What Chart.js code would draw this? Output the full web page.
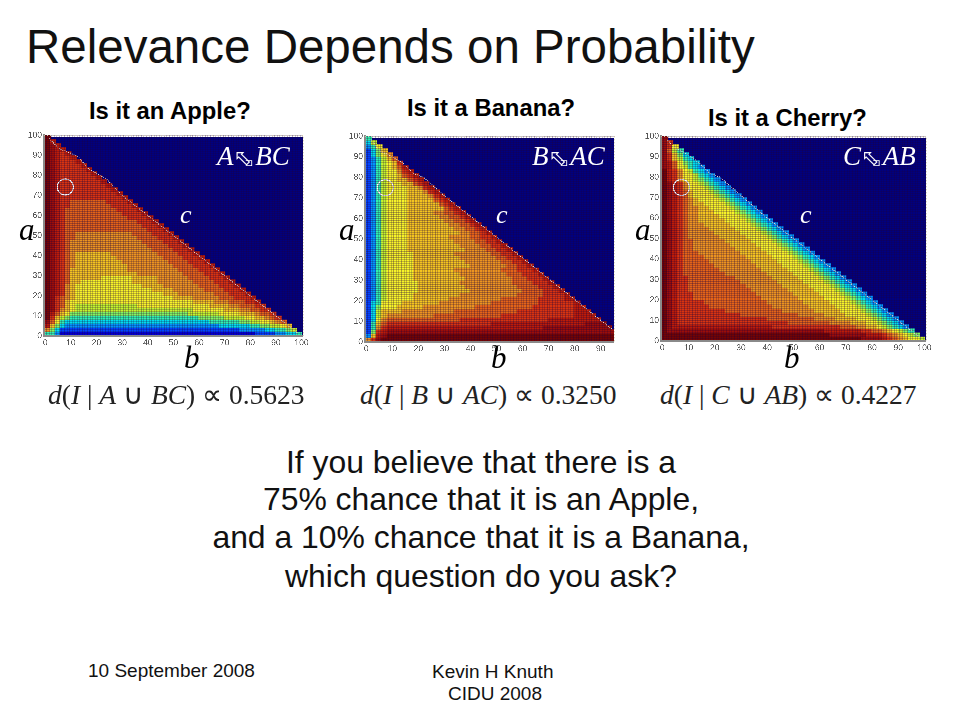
<!DOCTYPE html>
<html>
<head>
<meta charset="utf-8">
<script src="https://cdn.jsdelivr.net/npm/chart.js@4/dist/chart.umd.js"></script>
<style>
  html, body { margin: 0; padding: 0; background: #fff; }
  #slide { position: relative; width: 960px; height: 720px; overflow: hidden; font-family: "Liberation Sans", Arial, sans-serif; color: #000; }
  #slide canvas { position: absolute; }
  .t { position: absolute; white-space: nowrap; line-height: 1; }
  .title { font-size: 47.5px; left: 26px; top: 23px; color: #111; }
  .sub { font-size: 23.8px; font-weight: bold; }
  .body { left: 0; width: 962px; text-align: center; font-size: 31.9px; color: #111; }
  .foot { font-size: 19px; color: #111; }
  .v { font-family: "Liberation Serif", serif; font-style: italic; font-size: 31px; }
  .c { color: #fff; font-size: 26px; }
  .rel { font-family: "Liberation Serif", serif; font-style: italic; font-size: 27px; color: #fff; }
  .rel b { font-family: "DejaVu Sans", sans-serif; font-style: normal; font-weight: normal; font-size: 22px; }
  .rel u { font-family: "DejaVu Sans", sans-serif; font-style: normal; text-decoration: none; font-size: 10px; margin: 0 2px 0 -7px; position: relative; top: 1px; }
  .eq { font-family: "Liberation Serif", serif; font-size: 27.5px; color: #222; }
  .eq i { font-style: italic; }
</style>
</head>
<body>
<div id="slide">
  <div class="t title">Relevance Depends on Probability</div>

  <div class="t sub" style="left:89px;top:99px">Is it an Apple?</div>
  <div class="t sub" style="left:407px;top:96px">Is it a Banana?</div>
  <div class="t sub" style="left:708px;top:106px">Is it a Cherry?</div>

  <canvas id="apple"></canvas>
  <canvas id="banana"></canvas>
  <canvas id="cherry"></canvas>

  <div class="t rel" style="left:217px;top:143px">A<b>⬁</b><u>⊐</u>BC</div>
  <div class="t rel" style="left:532px;top:143px">B<b>⬁</b><u>⊐</u>AC</div>
  <div class="t rel" style="left:843px;top:143px">C<b>⬁</b><u>⊐</u>AB</div>
  <div class="t v c" style="left:180px;top:202px">c</div>
  <div class="t v c" style="left:496px;top:202px">c</div>
  <div class="t v c" style="left:800px;top:202px">c</div>
  <div class="t v" style="left:19px;top:214px">a</div>
  <div class="t v" style="left:339px;top:214px">a</div>
  <div class="t v" style="left:635px;top:214px">a</div>
  <div class="t v" style="left:184px;top:342px">b</div>
  <div class="t v" style="left:491px;top:342px">b</div>
  <div class="t v" style="left:784px;top:342px">b</div>

  <div class="t eq" style="left:48px;top:381px"><i>d</i>(<i>I</i> | <i>A</i> ∪ <i>BC</i>) ∝ 0.5623</div>
  <div class="t eq" style="left:360px;top:381px"><i>d</i>(<i>I</i> | <i>B</i> ∪ <i>AC</i>) ∝ 0.3250</div>
  <div class="t eq" style="left:660px;top:381px"><i>d</i>(<i>I</i> | <i>C</i> ∪ <i>AB</i>) ∝ 0.4227</div>

  <div class="t body" style="top:447px">If you believe that there is a</div>
  <div class="t body" style="top:484px">75% chance that it is an Apple,</div>
  <div class="t body" style="top:522px">and a 10% chance that it is a Banana,</div>
  <div class="t body" style="top:561px">which question do you ask?</div>

  <div class="t foot" style="left:88px;top:661px">10 September 2008</div>
  <div class="t foot" style="left:432px;top:662px">Kevin H Knuth</div>
  <div class="t foot" style="left:448px;top:684px">CIDU 2008</div>
</div>

<script>
// one string per row of the image, top row first (a = 98, 96, ... 0)
// each character is a colour level 0-f, left to right in b
const appleRows = [
  'f', 'fd', 'fed', 'fedd', 'fedcd', 'fedccd', 'fedcccd', 'fedccccd', 'fedcccccd', 'fedccccccd',
  'fedcccccccd', 'fedccccccccd', 'fedcccccccccd', 'fedccccccccccd', 'fedcccccccccccd', 'fedccccccccccccd',
  'fedcc bbbbbbb cccc d',
  'fedcc bbbbbbbb cccc d',
  'fedc bbbbbbbbbb cccc d',
  'fedc bbbbbbbbbb b cccc d',
  'fedc bbbbbbbbbb bb cccc d',
  'fedc bbbbbbbbbb bbbb ccc d',
  'fedc bbbbbbbbbb bbbbb ccc d',
  'fedc bbbbbbbbbb bbbbbb ccc d',
  'fedc bb aaaaaaaaaa a bbbb ccc d',
  'fedc bb aaaaaaaaaa aa bbbb ccc d',
  'fedc b aaaaaaaaaa aaaa bbbb ccc d',
  'fedc b aaaaaaaaaa aaaaa bbbb ccc d',
  'fedc b aaaaaaaaaa aaaaaa bbbb ccc d',
  'fedc ba 9999999 aaaaaaaaa bbbb ccc d',
  'fedc ba 99999999 aaaaaaaaa bbbb ccc d',
  'fedc ba 999999999 aaaaaaaaa bbbb ccc d',
  'fedc ba 9999999999 aaaaaaaaa bbbb ccc d',
  'fedc b 9999999999 9 aaaaaaaaaa bbbb ccc d',
  'fedc b 9999999999 999 aaaaaaaaa bbbb ccc d',
  'fedc b 999999 888888 99999 aaaaaa bbbb ccc d',
  'fedc b 99 8888888888 99999 aaaaaaa bbbb ccc d',
  'fedc a9 8888888888 888 9999 aaaaaaa bbbb ccc d',
  'fedc a9 8888888888 88888 9999 aaaaaa bbbb ccc d',
  'fedc a9 8888888888 8888888 999 aaaaaaa bbb ccc d',
  'fecb a9 8888888888 888888888 9999 aaaaa bbb ccc d',
  'fecb 9 8888888888 8888888888 8888 9999 aaa bbb cc d',
  'fecb 98 7777777777 77 8888888888 8888 9999 aa bbb cc',
  'feca 98 7777777777 7777777777 777 888888 999 aa bb cc',
  'fdb 98 6666666666 6666666666 666 777777 8888 999 a bb c',
  'fc97 6 5555555555 5555555555 55555 66666 7777 88 99 a b c',
  'eb85 4444444444 4444444444 44444444 555555 66 77 88 9 a b',
  'd96 4 3333333333 3333333333 3333333333 444444 55 66 77 8 9',
  'a64 2222222222 2222222222 2222222222 22222 33333 44 55 6 7',
  '553 1111111111 1111111111 1111111111 11111111 2222 33 44 5'
];
const bananaRows = [
  '5', '47', '358', '2469', '2468a', '23579b', '235789c', '235789bd', '235788acd', '2357889bcd',
  '23578899bcd', '235788899bcd', '2357888899acd', '23578888999acd', '235788889999acd',
  '2357 8888 99999 bcd',
  '2357 8888 999999 bcd',
  '2357 8888 9999999 bcd',
  '2357 8888 99999 aa bb cd',
  '2357 8888 999999 aa bb cd',
  '2357 8888 9999999 aa bb cd',
  '2357 8888 99999999 aa bb cd',
  '2357 8888 999999999 aa bb cd',
  '2357 8888 9999999999 aa bb cd',
  '2357 8888 99999999 aaaa bb cc d',
  '2357 8888 999999999 aaaa bb cc d',
  '2357 8888 9999999999 aaaa bb cc d',
  '2357 8888 9999999999 9 aaaa bb cc d',
  '2357 88888 99999999 aaaaaaa bb cc d',
  '2357 88888 999999999 aaaaaaa bb cc d',
  '2357 88888 9999999999 aaaaaaa bb cc d',
  '2357 88888 9999999999 9 aaaaaaa bb cc d',
  '2357 88888 99999999 aaaaaaaaa bbb ccc d',
  '2357 88888 999999999 aaaaaaaaa bbb ccc d',
  '2357 88888 9999999999 aaaaaaaaa bbb ccc d',
  '2357 888888 99999999 aaaaaaaaaa bbbb ccc d',
  '2357 888888 999999999 aaaaaaaaaa bbbb ccc d',
  '2357 888888 9999999999 aaaaaaaaaa bbbb ccc d',
  '2357 88888 999999999 aaaaaaaaaa a bbbbb cccc d',
  '2357 88888 9999999 aaaaaaaaaa bbbbbbb ccccc dd',
  '245 8888 9999999 aaaaaaaaaa bbbbbbbbb ccccccc d',
  '246 888 99999 aaaaaaaaaa bbbbbbbbbb b cccccccc dd',
  '247 9999 aaaaaaaaaa bbbbbbbbbb bb cccccccccc c ddd',
  '2479 aaaaaaaaa bbbbbbbbbb bbb cccccccccc cccc dddd',
  '248a bbbbbbbbbb bbbb cccccccccc ccccccc dddddddddd',
  '259b cccccccccc cccccccccc dddddddddd dddddddd eeee',
  '25ac dddddddddd dddddddddd dddddddddd eeeeeeeeee eee',
  '26cd eeeeeeeeee eeeeeeeeee eeeeeeeeee eeeeeeeeee eeee',
  '39de ffffffffff ffffffffff ffffffffff ffffffffff fffff',
  'ace ffffffffff ffffffffff ffffffffff ffffffffff fffffff'
];
const cherryRows = [
  'e', 'ec', 'ec8', 'eb75', 'ec964', 'ec9754', 'edb8654', 'edb87543', 'fdca87543', 'fdca887543',
  'fdca8876543', 'fedca8876543', 'fedca88876543',
  'fedcb9 888 76543',
  'fedcb9 8888 76543',
  'fedcba9 8888 76543',
  'fedcba 99 8888 76543',
  'fedcbaa 99 8888 76543',
  'fedcbaa 999 8888 76543',
  'fedcbaa 9999 8888 76543',
  'fedcbaa 99999 8888 76543',
  'fedcbaaa 99999 8888 76543',
  'fedcbaaaa 99999 8888 76543',
  'fedcbaaaaa 99999 8888 76543',
  'fedcbaaaaaa 99999 8888 76543',
  'fedcbbaaaaaa 99999 8888 76543',
  'fedcbbaaaaaaa 99999 8888 76543',
  'fedcbbaaaaaaaa 99999 8888 76543',
  'fedcbbb aaaaaaaa 99999 8888 76543',
  'fedcbbbb aaaaaaaa 99999 8888 76543',
  'fedcbbbbb aaaaaaaa 99999 8888 76543',
  'fedcbbbbbb aaaaaaaa 99999 8888 76543',
  'fedcbbbbbbb aaaaaaaa 99999 8888 76543',
  'fedcbbbbbbbb aaaaaaaa 99999 8888 76543',
  'fedcc bbbbbbbbb aaaaaaa 99999 8888 76543',
  'fedcc bbbbbbbbbb aaaaaaa 99999 8888 76543',
  'fedcc bbbbbbbbbbb aaaaaaa 99999 8888 76543',
  'fedcc bbbbbbbbbbbb aaaaaaa 99999 8888 76543',
  'fedccc bbbbbbbbbbbb aaaaaaa 99999 8888 76543',
  'fedccc bbbbbbbbbbbbb aaaaaaa 99999 8888 76543',
  'fedccccc bbbbbbbbbbbb aaaaaaa 99999 8888 76543',
  'fedcccccc bbbbbbbbbbbb aaaaaaa 99999 8888 76543',
  'fed ccccccccc bbbbbbbbbbb aaaaaa 99999 8888 76543',
  'fed cccccccccccc bbbbbbbbbbb aaaaa 9999 8888 76543',
  'fed ccccccccccccccccc bbbbbbbbb aaaa 9999 888 76543',
  'fed cccccccccccccccccccc c bbbbbbbb aaaa 999 88 76543',
  'fed dddddddddd dddddddd cccccccccc ccc bbb aa 99 8 76543',
  'f eeeeeeeeee eeeeeeeeee eeeeeeeeee ddddddd cc bb a 98765',
  'ffffffffff ffffffffff ffffffffff ff eeeeeee ddd cba9 876',
  'ffffffffff ffffffffff ffffffffff ffffffff eeee dcba 9887'
];

// colour level -> jet-like colour, 0 is the navy of the empty region
const levelColors = ['#00007f', '#0000d8', '#0044ff', '#0094ff', '#00dcf0', '#30f0b0', '#84f460', '#c4f42c',
  '#f8f428', '#f4c420', '#ec9420', '#e46418', '#d83410', '#bc1c08', '#9c0e08', '#740402'];

// tick labels on both axes
const tickLabels = [0, 10, 20, 30, 40, 50, 60, 70, 80, 90, 100];

// the light edge along the diagonal, [b, a]
const appleEdgeB = [1.5, 4, 6, 10, 13, 17, 20, 24, 30, 98.5];
const appleEdgeA = [98.5, 95, 93, 91, 89, 83, 81, 78, 70, 1.5];
const bananaEdgeB = [2, 5, 10, 14, 18, 22, 30, 40, 95];
const bananaEdgeA = [98, 93, 90, 87, 82, 80, 71, 61, 5.5];
const cherryEdgeB = [2, 5, 10, 14, 18, 22, 30, 40, 98.5];
const cherryEdgeA = [98, 94, 91, 87, 82, 80, 71, 60, 1.5];

// the white circle marks the belief (b, a) on each plot
const appleBelief = [7.8, 74.2];
const bananaBelief = [7.3, 75];
const cherryBelief = [7.3, 75];

const plotFrame = {
  id: 'plotFrame',
  beforeDatasetsDraw(chart) {
    const { ctx, chartArea: a } = chart;
    ctx.save();
    ctx.fillStyle = levelColors[0];
    ctx.fillRect(a.left, a.top + 2, a.width, a.height - 2);
    ctx.restore();
  },
  afterDraw(chart) {
    const { ctx, chartArea: a } = chart;
    ctx.save();
    ctx.strokeStyle = '#cfc9a8';
    ctx.setLineDash([1, 2]);
    ctx.beginPath();
    ctx.moveTo(a.left, a.top + 0.5);
    ctx.lineTo(a.right + 0.5, a.top + 0.5);
    ctx.lineTo(a.right + 0.5, a.bottom);
    ctx.stroke();
    ctx.restore();
  }
};

function rowDatasets(rows, cellWidth) {
  return rows.map((row, i) => {
    const levels = row.replace(/ /g, '').split('');
    const a = 100 - 2 * (i + 1);
    return {
      type: 'bar',
      order: 3,
      data: levels.map((_, j) => ({ x: 2 * j + 1, y: [a, a + 2] })),
      backgroundColor: levels.map(l => levelColors[parseInt(l, 16)]),
      borderWidth: 0,
      grouped: false,
      barThickness: cellWidth
    };
  });
}

function axis(max, lengthFit) {
  return {
    type: 'linear',
    min: 0,
    max: max,
    afterFit: lengthFit,
    border: { color: '#8a8a8a', width: 2, z: 2 },
    // mesh tinted towards the navy so it stays faint over the empty region
    grid: { color: 'rgba(30,0,60,0.32)', lineWidth: 0.8, z: 1, drawTicks: false },
    ticks: {
      stepSize: 1,
      autoSkip: false,
      maxRotation: 0,
      padding: 2,
      color: '#555',
      font: { family: 'Liberation Sans', size: 8.5 },
      callback: v => (tickLabels.includes(v) ? String(v) : '')
    }
  };
}

// x0,y0 = pixel of the plot's left/top corner, w,h = plot size on the slide
function heatmap(id, rows, edgeB, edgeA, belief, xMax, x0, y0, w, h) {
  const canvas = document.getElementById(id);
  canvas.style.left = (x0 - 22) + 'px';
  canvas.style.top = (y0 - 6) + 'px';
  canvas.width = w + 22 + 8;
  canvas.height = h + 6 + 16;
  return new Chart(canvas, {
    type: 'bar',
    data: {
      datasets: [
        ...rowDatasets(rows, 2 * w / xMax + 0.4),
        {
          type: 'line',
          order: 2,
          data: edgeB.map((b, i) => ({ x: b, y: edgeA[i] })),
          borderColor: '#e6dcd2',
          borderWidth: 1,
          borderDash: [1, 1],
          pointRadius: 0,
          fill: false
        },
        {
          type: 'scatter',
          order: 1,
          data: [{ x: belief[0], y: belief[1] }],
          pointRadius: 8,
          pointBackgroundColor: 'transparent',
          pointBorderColor: '#fff',
          pointBorderWidth: 1.2
        }
      ]
    },
    options: {
      responsive: false,
      animation: false,
      devicePixelRatio: 3,
      events: [],
      layout: { padding: { top: 6, right: 8, left: 0, bottom: 0 } },
      plugins: { legend: { display: false }, tooltip: { enabled: false } },
      scales: {
        x: axis(xMax, s => { s.height = 16; }),
        y: axis(100, s => { s.width = 22; })
      }
    },
    plugins: [plotFrame]
  });
}

heatmap('apple', appleRows, appleEdgeB, appleEdgeA, appleBelief, 100, 44, 132, 260, 204);
heatmap('banana', bananaRows, bananaEdgeB, bananaEdgeA, bananaBelief, 94.5, 365, 133, 250, 209);
heatmap('cherry', cherryRows, cherryEdgeB, cherryEdgeA, cherryBelief, 100, 661, 133, 266, 208);
</script>
</body>
</html>
